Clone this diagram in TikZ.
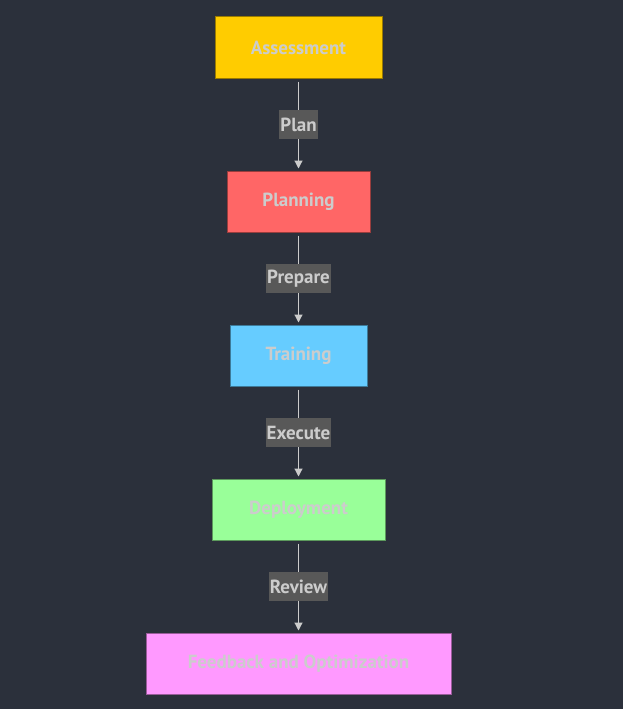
\documentclass[tikz,border=0pt]{standalone}
\usepackage{fontspec}
\setmainfont{PT Sans}
\usetikzlibrary{positioning,arrows.meta}
\definecolor{bgdark}{RGB}{43,48,59}
\definecolor{txtgray}{RGB}{204,204,204}
\definecolor{lblgray}{RGB}{88,88,88}
\definecolor{cAssess}{RGB}{255,204,0}
\definecolor{cPlan}{RGB}{255,102,102}
\definecolor{cTrain}{RGB}{102,204,255}
\definecolor{cDeploy}{RGB}{153,255,153}
\definecolor{cFeed}{RGB}{255,153,255}
\tikzset{stagebox/.style={draw=#1!60!black, fill=#1, line width=1pt,
  minimum height=61pt, text=txtgray, font=\fontsize{19}{22}\selectfont\bfseries}}
\tikzset{flow/.style={draw=txtgray, line width=1.2pt, shorten <=3pt, shorten >=2pt,
  -{Triangle[width=8pt,length=8pt]}}}
\tikzset{edgelbl/.style={fill=lblgray, text=txtgray, inner xsep=1pt,
  minimum height=29pt, font=\fontsize{19}{22}\selectfont\bfseries}}

\begin{document}
\begin{tikzpicture}[x=1pt, y=-1pt, node distance=92pt]

\fill[bgdark] (0,0) rectangle (623,709);
\useasboundingbox (0,0) rectangle (623,709);

\node[stagebox=cAssess, minimum width=167pt] (assess) at (298.5,47.5) {Assessment};
\node[stagebox=cPlan, minimum width=143pt, below=of assess] (plan) {Planning};
\node[stagebox=cTrain, minimum width=137pt, below=of plan] (train) {Training};
\node[stagebox=cDeploy, minimum width=173pt, below=of train] (deploy) {Deployment};
\node[stagebox=cFeed, minimum width=305pt, below=of deploy] (feed) {Feedback and Optimization};

\draw[flow] (assess) -- node[edgelbl] {Plan} (plan);
\draw[flow] (plan) -- node[edgelbl] {Prepare} (train);
\draw[flow] (train) -- node[edgelbl] {Execute} (deploy);
\draw[flow] (deploy) -- node[edgelbl] {Review} (feed);

\end{tikzpicture}
\end{document}
